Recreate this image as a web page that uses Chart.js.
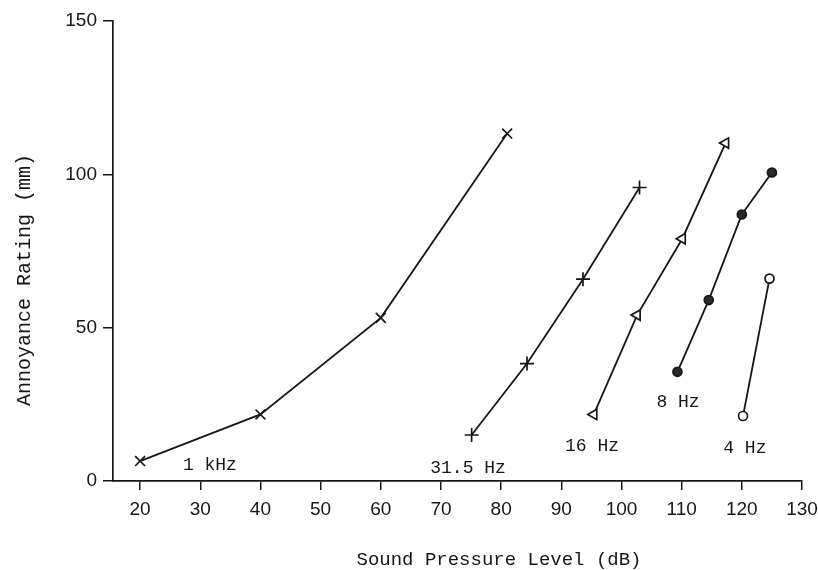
<!DOCTYPE html>
<html lang="en">
<head>
  <meta charset="UTF-8">
  <title>Annoyance Rating vs Sound Pressure Level</title>
  <style>
    body {
      margin: 0;
      background: #fff;
    }
    #chart {
      display: block;
    }
  </style>
</head>
<body>
  <canvas id="chart" width="818" height="570"></canvas>

  <script src="https://cdn.jsdelivr.net/npm/chart.js"></script>
  <script>
    // series names
    const seriesNames = ['1 kHz', '31.5 Hz', '16 Hz', '8 Hz', '4 Hz'];

    // sound pressure level (dB) per series
    const spl1k   = [20, 40, 60, 81];
    const spl31   = [75.1, 84.3, 93.6, 103];
    const spl16   = [95.4, 102.6, 110.1, 117.3];
    const spl8    = [109.3, 114.5, 120, 125];
    const spl4    = [120.2, 124.6];

    // annoyance rating (mm) per series
    const rate1k  = [6.5, 21.7, 53.2, 113.3];
    const rate31  = [15, 38.3, 65.8, 95.7];
    const rate16  = [21.7, 54.1, 79, 110.2];
    const rate8   = [35.6, 59, 86.9, 100.6];
    const rate4   = [21.2, 66];

    // axis ticks
    const xTicks = [20, 30, 40, 50, 60, 70, 80, 90, 100, 110, 120, 130];
    const yTicks = [0, 50, 100, 150];

    // where each curve's name sits, in data units
    const labelX = [31.6, 74.5, 95.1, 109.4, 120.5];
    const labelY = [5.2, 4.1, 11.2, 25.8, 10.8];

    const ink = '#161616';
    const mono = '"Liberation Mono", "DejaVu Sans Mono", monospace';
    const sans = '"Liberation Sans", Arial, sans-serif';

    function pts(xs, ys) {
      return xs.map((x, i) => ({ x: x, y: ys[i] }));
    }

    function serie(i, xs, ys, style) {
      return Object.assign({
        label: seriesNames[i],
        data: pts(xs, ys),
        showLine: true,
        borderColor: ink,
        borderWidth: 1.8,
        pointBorderColor: ink,
        pointBorderWidth: 1.7,
        pointBackgroundColor: '#fff',
        tension: 0
      }, style);
    }

    const curveLabels = {
      id: 'curveLabels',
      afterDraw(chart) {
        const ctx = chart.ctx;
        const xs = chart.scales.x;
        const ys = chart.scales.y;
        ctx.save();
        ctx.fillStyle = ink;
        ctx.textAlign = 'center';
        ctx.textBaseline = 'middle';
        ctx.font = '18px ' + mono;
        seriesNames.forEach((name, i) => {
          ctx.fillText(name, xs.getPixelForValue(labelX[i]), ys.getPixelForValue(labelY[i]));
        });

        // axis titles
        ctx.font = '19px ' + mono;
        ctx.fillText('Sound Pressure Level (dB)', 499, 560);
        ctx.translate(25, 280);
        ctx.rotate(-Math.PI / 2);
        ctx.font = '20px ' + mono;
        ctx.fillText('Annoyance Rating (mm)', 0, 0);
        ctx.restore();
      }
    };

    new Chart(document.getElementById('chart'), {
      type: 'scatter',
      data: {
        datasets: [
          serie(0, spl1k, rate1k, { pointStyle: 'crossRot', pointRadius: 7 }),
          serie(1, spl31, rate31, { pointStyle: 'cross', pointRadius: 7 }),
          serie(2, spl16, rate16, { pointStyle: 'triangle', rotation: -90, pointRadius: 6 }),
          serie(3, spl8, rate8, { pointStyle: 'circle', pointRadius: 4.5, pointBackgroundColor: '#2a2a2a' }),
          serie(4, spl4, rate4, { pointStyle: 'circle', pointRadius: 4.5 })
        ]
      },
      options: {
        responsive: false,
        animation: false,
        layout: {
          padding: { top: 21, right: 16, bottom: 0, left: 0 }
        },
        plugins: {
          legend: { display: false },
          tooltip: { enabled: false }
        },
        scales: {
          x: {
            type: 'linear',
            min: 15.5,
            max: 130,
            afterFit: s => {
              s.height = 89;
              s.paddingLeft = 0;
              s.paddingRight = 0;
            },
            afterBuildTicks: s => { s.ticks = xTicks.map(v => ({ value: v })); },
            grid: {
              drawOnChartArea: false,
              drawTicks: true,
              tickLength: 9,
              color: ink,
              lineWidth: 1.5
            },
            border: { display: true, color: ink, width: 1.7 },
            ticks: {
              color: ink,
              padding: 8,
              maxRotation: 0,
              autoSkip: false,
              font: { family: sans, size: 19 }
            }
          },
          y: {
            type: 'linear',
            min: 0,
            max: 150,
            afterFit: s => {
              s.width = 113;
              s.paddingTop = 0;
              s.paddingBottom = 0;
            },
            afterBuildTicks: s => { s.ticks = yTicks.map(v => ({ value: v })); },
            grid: {
              drawOnChartArea: false,
              drawTicks: true,
              tickLength: 10,
              color: ink,
              lineWidth: 1.5
            },
            border: { display: true, color: ink, width: 1.7 },
            ticks: {
              color: ink,
              padding: 6,
              font: { family: sans, size: 19 }
            }
          }
        }
      },
      plugins: [curveLabels]
    });
  </script>
</body>
</html>
